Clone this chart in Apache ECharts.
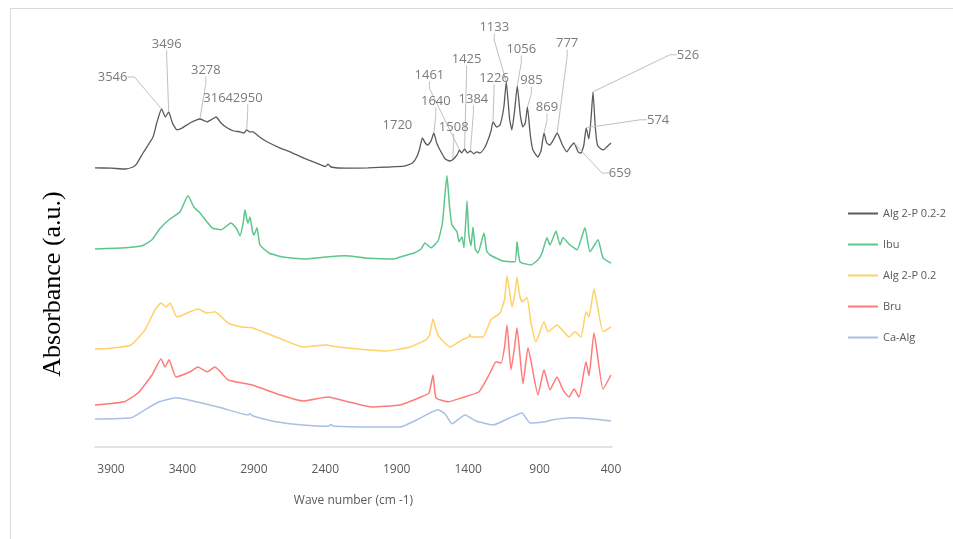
<!DOCTYPE html>
<html><head><meta charset="utf-8">
<script src="https://cdn.jsdelivr.net/npm/echarts@6/dist/echarts.min.js"></script>
<style>html,body{margin:0;padding:0;background:#fff}#c{width:953px;height:539px}</style>
</head><body><div id="c"></div>
<script>
// ---------- data (wave number cm-1, absorbance a.u. with vertical offsets as plotted) ----------
const seriesNames = ['Alg 2-P 0.2-2', 'Ibu', 'Alg 2-P 0.2', 'Bru', 'Ca-Alg'];
const tickValues = [3900, 3400, 2900, 2400, 1900, 1400, 900, 400];

const algP22Wave = [4012,3900,3800,3746,3720,3676,3606,3580,3546,3520,3496,3470,3438,3400,3347,3300,3278,3228,3190,3164,3130,3088,3040,2997,2970,2950,2930,2906,2860,2808,2720,2647,2550,2450,2400,2380,2360,2250,2100,1950,1850,1790,1760,1740,1720,1700,1682,1660,1640,1620,1598,1560,1530,1508,1490,1475,1461,1445,1425,1405,1384,1360,1340,1318,1290,1269,1240,1226,1200,1177,1150,1133,1110,1094,1075,1056,1035,1017,1000,985,965,947,912,890,869,850,828,800,777,740,709,685,659,630,610,590,574,555,540,526,510,495,470,450,430,400];
const algP22Abs  = [6.98,6.97,6.95,7.0,7.08,7.35,7.75,8.1,8.45,8.25,8.38,8.1,7.93,7.98,8.1,8.18,8.2,8.13,8.2,8.25,8.1,7.98,7.9,7.88,7.85,7.93,7.88,7.88,7.75,7.63,7.48,7.38,7.22,7.08,7.01,7.07,7.0,6.97,6.98,7.0,7.02,7.1,7.25,7.45,7.73,7.6,7.55,7.65,7.85,7.6,7.43,7.2,7.15,7.18,7.25,7.32,7.43,7.35,7.45,7.35,7.4,7.33,7.38,7.35,7.45,7.6,7.9,8.13,8.0,8.05,8.5,9.13,8.2,7.93,8.4,9.03,8.3,8.0,8.1,8.5,7.8,7.43,7.25,7.4,7.85,7.6,7.55,7.7,7.85,7.55,7.38,7.5,7.6,7.38,7.35,7.55,7.98,7.7,8.2,8.88,8.0,7.55,7.45,7.43,7.5,7.6];

const ibuWave = [4012,3800,3683,3613,3560,3494,3417,3361,3320,3277,3193,3130,3060,3020,2997,2975,2962,2950,2941,2927,2910,2899,2878,2857,2794,2696,2549,2400,2262,2100,1926,1877,1779,1730,1702,1660,1611,1580,1562,1548,1530,1513,1478,1464,1443,1429,1408,1395,1380,1366,1350,1331,1289,1270,1247,1156,1072,1058,1037,960,911,883,848,827,785,757,736,687,638,582,547,491,456,400];
const ibuAbs  = [4.95,4.98,5.03,5.18,5.45,5.68,5.88,6.28,6.0,5.85,5.48,5.43,5.6,5.45,5.28,5.6,5.93,5.7,5.6,5.75,5.4,5.3,5.48,5.05,4.85,4.75,4.7,4.75,4.78,4.72,4.7,4.75,4.85,4.95,5.1,4.98,5.15,5.6,6.33,6.78,6.0,5.55,5.38,5.13,5.25,4.98,6.15,5.3,5.03,5.5,4.95,4.85,5.35,4.9,4.8,4.65,4.63,5.13,4.63,4.55,4.68,4.85,5.23,5.05,5.4,5.05,5.23,5.05,4.93,5.48,4.88,5.18,4.73,4.6];

const algP2Wave = [4012,3900,3760,3662,3592,3550,3515,3487,3438,3347,3291,3228,3172,3081,2983,2913,2696,2556,2395,2311,1975,1807,1695,1670,1646,1611,1527,1443,1395,1387,1380,1296,1240,1177,1145,1128,1110,1093,1075,1058,1040,1023,988,960,925,869,841,778,694,652,610,575,554,519,456,400];
const algP2Abs  = [2.45,2.47,2.55,2.93,3.43,3.6,3.5,3.6,3.25,3.38,3.45,3.35,3.38,3.1,3.0,2.98,2.68,2.5,2.55,2.5,2.4,2.5,2.68,2.8,3.2,2.8,2.5,2.68,2.75,2.82,2.75,2.75,3.18,3.35,3.7,4.28,3.9,3.5,3.8,4.25,3.8,3.63,3.73,3.1,2.63,3.13,2.88,3.05,2.75,2.88,2.75,3.38,3.25,3.95,2.88,3.0];

const bruWave = [4012,3809,3711,3613,3550,3522,3494,3445,3347,3291,3228,3172,3081,2983,2913,2696,2556,2381,2262,2073,1877,1730,1674,1646,1625,1541,1443,1324,1247,1205,1170,1145,1128,1100,1075,1058,1016,981,911,869,827,778,736,694,659,624,575,554,519,456,400];
const bruAbs  = [1.05,1.13,1.35,1.8,2.2,2.0,2.18,1.75,1.88,2.0,1.88,2.0,1.68,1.6,1.55,1.28,1.15,1.25,1.15,1.0,1.05,1.25,1.35,1.8,1.23,1.13,1.23,1.38,1.85,2.13,2.1,2.5,3.05,1.93,2.5,2.98,1.58,2.48,1.3,1.93,1.43,1.75,1.43,1.25,1.45,1.25,2.13,1.78,2.85,1.45,1.8];

const caAlgWave = [4012,3760,3662,3564,3445,3326,3130,2941,2927,2910,2745,2556,2380,2360,2340,2073,1877,1758,1611,1562,1513,1422,1345,1226,1107,1023,967,862,806,673,526,400];
const caAlgAbs  = [0.7,0.73,0.93,1.13,1.23,1.15,0.98,0.8,0.83,0.78,0.63,0.55,0.52,0.56,0.52,0.5,0.5,0.68,0.93,0.83,0.58,0.8,0.65,0.55,0.73,0.85,0.6,0.63,0.68,0.73,0.7,0.65];

// annotated peaks on the top spectrum
const peakWaves = [3546,3496,3278,3164,2950,1720,1640,1508,1461,1425,1384,1226,1133,1056,985,869,777,659,574,526];
const noLeader = [3164, 1720];
// label offsets (px) from the annotated point
const labelOffsets = [[-49,-32],[-2,-68],[6,-49],[2,-19],[1,-32],[-25,-13],[2,-32],[1,-33],[-30,-75],[2,-90],[3,-52],[1,-44],[-12,-55],[4,-37],[4,-27],[3,-26],[10,-90],[46,30],[72,-8],[95,-37]];

const colors = ['#5b5b5b', '#5cc68c', '#ffd166', '#ff7b7b', '#a8c0e4'];

// ---------- chart ----------
const zip = (w, a) => w.map((x, i) => [x, a[i]]);
const waves = [algP22Wave, ibuWave, algP2Wave, bruWave, caAlgWave];
const absorb = [algP22Abs, ibuAbs, algP2Abs, bruAbs, caAlgAbs];
const txtFont = '"Open Sans", sans-serif';

const lineSeries = seriesNames.map((n, i) => ({
  name: n, type: 'line', data: zip(waves[i], absorb[i]),
  showSymbol: false, smooth: 0.15, color: colors[i],
  lineStyle: { width: i === 0 ? 1.3 : 1.5, color: colors[i] },
  silent: true, z: 2
}));

const peakData = peakWaves.map(w => {
  const item = { value: [w, algP22Abs[algP22Wave.indexOf(w)]] };
  if (noLeader.includes(w)) item.labelLine = { show: false };
  return item;
});

const chart = echarts.init(document.getElementById('c'), null, { renderer: 'canvas' });
chart.setOption({
  animation: false,
  backgroundColor: '#ffffff',
  grid: { left: 95, right: 341, top: 27, bottom: 92 },
  xAxis: {
    type: 'value', inverse: true, min: 393, max: 4012,
    axisLine: { show: true, lineStyle: { color: '#d9d9d9', width: 1.5 } },
    axisTick: { show: false }, splitLine: { show: false },
    axisLabel: { customValues: tickValues, formatter: v => String(v), color: '#595959', fontSize: 12, margin: 17, fontFamily: txtFont },
    name: 'Wave number (cm -1)', nameLocation: 'middle', nameGap: 48,
    nameTextStyle: { color: '#595959', fontSize: 12, fontFamily: txtFont }
  },
  yAxis: { type: 'value', min: 0, max: 10.5, show: false },
  legend: {
    orient: 'vertical', left: 843, top: 203, itemWidth: 30, itemHeight: 2, itemGap: 20,
    icon: 'rect', data: seriesNames,
    textStyle: { color: '#595959', fontSize: 11, fontFamily: txtFont }
  },
  graphic: [
    { type: 'rect', shape: { x: 10.5, y: 8.5, width: 1000, height: 600 }, style: { fill: 'none', stroke: '#d9d9d9', lineWidth: 1 }, silent: true },
    { type: 'text', x: 53, y: 284, rotation: Math.PI / 2,
      style: { text: 'Absorbance (a.u.)', fill: '#000', font: '26px "Liberation Serif", "Times New Roman", serif', align: 'center', verticalAlign: 'middle' } }
  ],
  series: lineSeries.concat([{
    name: 'peaks', type: 'scatter', data: peakData, symbolSize: 2,
    itemStyle: { color: 'rgba(0,0,0,0)' }, silent: true, z: 5,
    label: { show: true, position: 'inside', formatter: p => String(p.value[0]), color: '#595959', fontSize: 13, fontFamily: txtFont },
    labelLine: { show: true, length2: 7, lineStyle: { color: '#c0c0c0', width: 1 } },
    labelLayout: p => ({ dx: labelOffsets[p.dataIndex][0], dy: labelOffsets[p.dataIndex][1] })
  }])
});
</script>
</body></html>
